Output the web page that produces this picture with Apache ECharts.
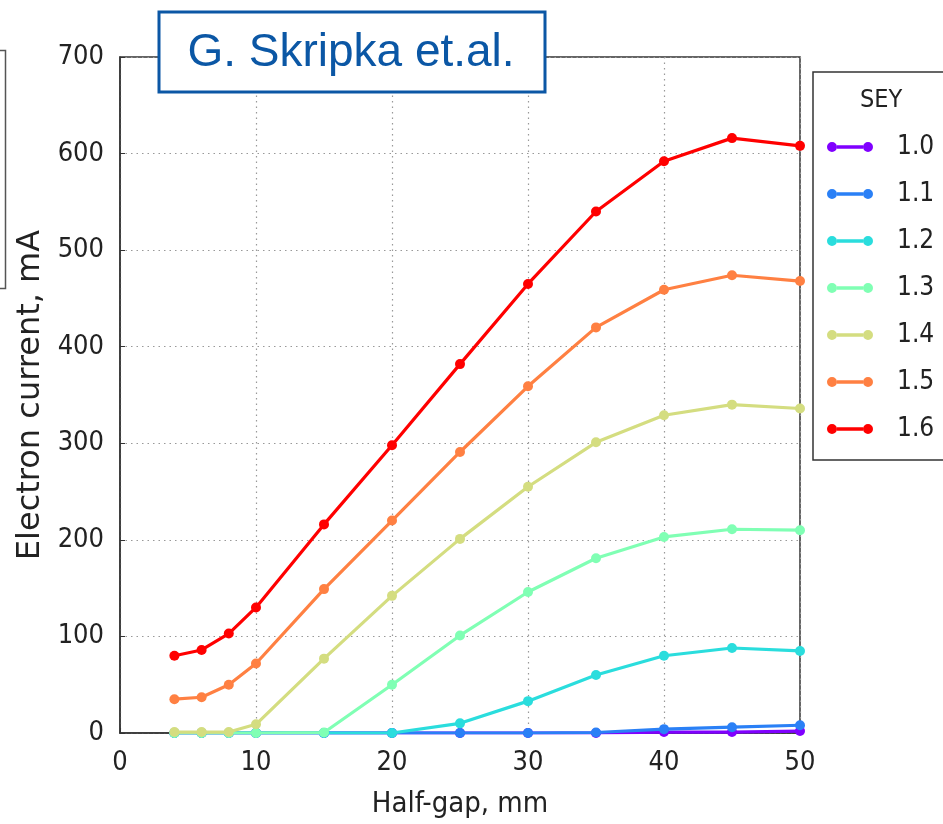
<!DOCTYPE html>
<html><head><meta charset="utf-8">
<script src="https://cdn.jsdelivr.net/npm/echarts@6/dist/echarts.min.js"></script>
<style>html,body{margin:0;padding:0;background:#fff}#c{width:943px;height:824px}</style>
</head><body><div id="c"></div>
<script>
const xValues = [4, 6, 8, 10, 15, 20, 25, 30, 35, 40, 45, 50];
const seyNames = ['1.0', '1.1', '1.2', '1.3', '1.4', '1.5', '1.6'];
const sey10 = [0, 0, 0, 0, 0, 0, 0, 0, 0, 1, 1, 2];
const sey11 = [0, 0, 0, 0, 0, 0, 0, 0, 0.5, 4, 6, 8];
const sey12 = [0, 0, 0, 0, 0, 0, 10, 33, 60, 80, 88, 85];
const sey13 = [0, 0, 0, 0, 0.5, 50, 101, 146, 181, 203, 211, 210];
const sey14 = [1, 1, 1, 9, 77, 142, 201, 255, 301, 329, 340, 336];
const sey15 = [35, 37, 50, 72, 149, 220, 291, 359, 420, 459, 474, 468];
const sey16 = [80, 86, 103, 130, 216, 298, 382, 465, 540, 592, 616, 608];
const xTicks = [0, 10, 20, 30, 40, 50];
const yTicks = [0, 100, 200, 300, 400, 500, 600, 700];

const allSeries = [sey10, sey11, sey12, sey13, sey14, sey15, sey16];
const colors = ['#8000ff', '#2a80f6', '#2adddd', '#80ffb4', '#d4dd80', '#ff8042', '#ff0000'];
const FONT = 'DejaVu Sans Condensed';
const icon = 'path://M0,5A5,5 0 1,1 10,5A5,5 0 1,1 0,5Z M36,5A5,5 0 1,1 46,5A5,5 0 1,1 36,5Z M10,3.25L36,3.25L36,6.75L10,6.75Z';

const chart = echarts.init(document.getElementById('c'), null, {renderer: 'canvas'});
chart.setOption({
  animation: false,
  backgroundColor: '#fff',
  grid: {left: 120, right: 143, top: 57, bottom: 91, show: true, borderColor: '#333', borderWidth: 1.5, backgroundColor: 'transparent'},
  xAxis: {
    type: 'value', min: xTicks[0], max: xTicks[xTicks.length - 1], interval: 10,
    name: 'Half-gap, mm', nameLocation: 'middle', nameGap: 57,
    nameTextStyle: {fontFamily: FONT, fontSize: 29, color: '#222'},
    axisLine: {show: true, lineStyle: {color: '#333', width: 1.5}},
    axisTick: {show: true, inside: true, length: 5, lineStyle: {color: '#333'}},
    axisLabel: {fontFamily: FONT, fontSize: 27, color: '#222', margin: 16},
    splitLine: {show: true, lineStyle: {type: [1.5, 4], color: '#999', width: 1.2}}
  },
  yAxis: {
    type: 'value', min: yTicks[0], max: yTicks[yTicks.length - 1], interval: 100,
    name: 'Electron current, mA', nameLocation: 'middle', nameGap: 68,
    nameTextStyle: {fontFamily: 'DejaVu Sans', fontSize: 32, color: '#222'},
    axisLine: {show: true, lineStyle: {color: '#333', width: 1.5}},
    axisTick: {show: true, inside: true, length: 5, lineStyle: {color: '#333'}},
    axisLabel: {fontFamily: FONT, fontSize: 27, color: '#222', margin: 16},
    splitLine: {show: true, lineStyle: {type: [1.5, 4], color: '#999', width: 1.2}}
  },
  legend: {
    orient: 'vertical', left: 827, top: 134, padding: 0,
    itemWidth: 46, itemHeight: 10, itemGap: 21,
    icon: icon,
    data: seyNames,
    textStyle: {fontFamily: FONT, fontSize: 26, color: '#222', lineHeight: 26, padding: [0, 0, 0, 19]}
  },
  graphic: [
    {type: 'rect', left: -10, top: 48, shape: {width: 13, height: 238}, style: {fill: 'none', stroke: '#555', lineWidth: 1.5}, z: 10},
    {type: 'rect', x: 813, y: 72, shape: {width: 200, height: 388}, style: {fill: 'none', stroke: '#333', lineWidth: 1.5}, z: 10},
    {type: 'text', x: 881, y: 100, style: {text: 'SEY', font: '25px "' + FONT + '"', fill: '#222', align: 'center', verticalAlign: 'middle'}, z: 10},
    {type: 'rect', x: 159, y: 12, shape: {width: 386, height: 80}, style: {fill: '#fff', stroke: '#0b57a5', lineWidth: 3}, z: 20},
    {type: 'text', x: 351, y: 53, style: {text: 'G. Skripka et.al.', font: '46px "Liberation Sans"', fill: '#0b57a5', align: 'center', verticalAlign: 'middle'}, z: 21}
  ],
  series: allSeries.map((vals, i) => ({
    name: seyNames[i], type: 'line',
    data: xValues.map((x, j) => [x, vals[j]]),
    color: colors[i],
    symbol: 'circle', symbolSize: 10, showSymbol: true,
    lineStyle: {width: 3.2, color: colors[i]},
    itemStyle: {color: colors[i]},
    z: 2 + i
  }))
});
</script></body></html>
